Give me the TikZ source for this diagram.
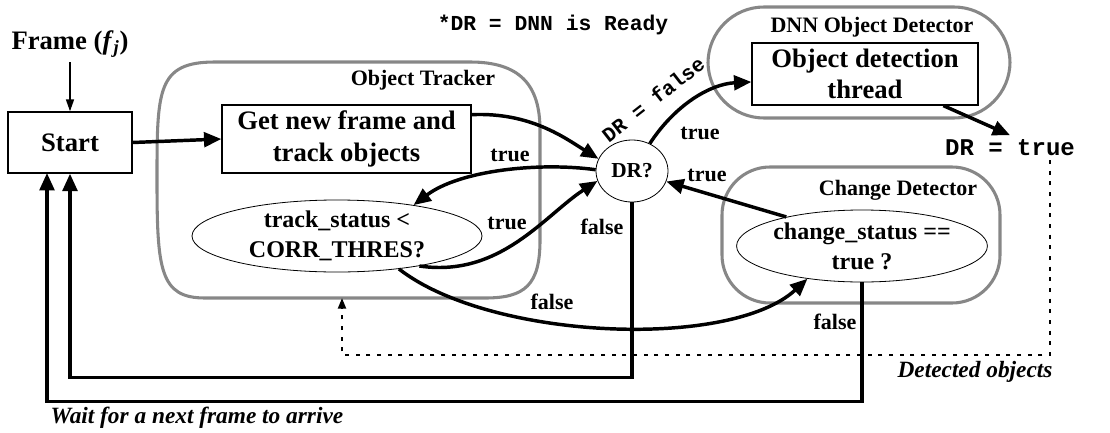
\documentclass[tikz,border=0pt]{standalone}
\usepackage{fontspec}
\setmainfont{Liberation Serif}
\setmonofont{Liberation Mono}
\usetikzlibrary{arrows.meta,shapes.geometric,calc}
\definecolor{cgray}{HTML}{878787}
\begin{document}
\begin{tikzpicture}[x=0.75pt,y=-0.75pt,
  box/.style={draw,line width=1pt,rectangle,align=center,font=\fontsize{20}{23.5}\selectfont\bfseries,inner sep=0pt},
  cond/.style={draw,line width=0.6pt,ellipse,align=center,font=\fontsize{18}{22.5}\selectfont\bfseries,inner sep=0pt},
  container/.style={draw=cgray,line width=2.3pt},
  ctitle/.style={font=\fontsize{16.5}{19}\selectfont\bfseries},
  lbl/.style={font=\fontsize{16.5}{19}\selectfont\bfseries},
  monolbl/.style={font=\fontsize{16}{19}\selectfont\ttfamily\bfseries},
  itl/.style={font=\fontsize{17.5}{20}\selectfont\bfseries\itshape},
  flow/.style={line width=2.6pt,-{Triangle[length=13pt,width=11pt]}},
  thinflow/.style={line width=1.2pt,-{Triangle[length=9pt,width=6pt]}},
  dotflow/.style={line width=1.6pt,dash pattern=on 3pt off 5pt,-{Triangle[length=8pt,width=6pt]}}
]
\useasboundingbox (0,0) rectangle (1110,432);

% containers
\draw[container] (215,62) -- (470,62) .. controls (520,62) and (540,85) .. (540,130) -- (540,240) .. controls (540,285) and (525,298) .. (485,298) -- (205,298) .. controls (160,298) and (157,270) .. (157,180) .. controls (157,90) and (157,62) .. (215,62) -- cycle;
\draw[container,rounded corners=42pt] (708,7) rectangle (1010,118);
\draw[container,rounded corners=36pt] (722,167) rectangle (1000,303);
\coordinate (trackbot) at (342,298);

\node[ctitle] (trtitle) at (423,80) {Object Tracker};
\node[ctitle] (dnntitle) at (872,27) {DNN Object Detector};
\node[ctitle] (chtitle) at (898,190) {Change Detector};

% nodes
\node[font=\fontsize{20}{22}\selectfont\bfseries] (frame) at (70,44) {Frame (\textit{f}\textsubscript{\textit{j}})};
\node[box,minimum width=93pt,minimum height=45.75pt] (start) at (70,142.5) {Start};
\node[box,minimum width=186.75pt,minimum height=51pt] (getframe) at (346.5,139) {Get new frame and\\track objects};
\node[box,minimum width=169.5pt,minimum height=46.5pt] (dnnbox) at (865,74) {Object detection\\thread};
\node[cond,minimum width=54pt,minimum height=46.5pt,font=\fontsize{16}{19}\selectfont\bfseries] (dr) at (632,171) {DR?};
\node[cond,minimum width=217.5pt,minimum height=54pt] (track) at (337,236) {track\_status <\\CORR\_THRES?};
\node[cond,minimum width=186pt,minimum height=54pt] (change) at (862,246) {change\_status ==\\true ?};

\node[monolbl] (note) at (553,25) {*DR = DNN is Ready};
\node[monolbl,font=\fontsize{18}{20}\selectfont\ttfamily\bfseries] (drtrue) at (1010,148) {DR = true};
\node[itl] (detected) at (975,372) {Detected objects};
\node[itl] (wait) at (197,418) {Wait for a next frame to arrive};
\coordinate (dotstart) at (1050,160);
\coordinate (startin) at (47,173);

% connectors
\draw[thinflow] (frame.south) -- (start.north);
\draw[flow] (start.east) -- (getframe.west);
\draw[flow] (getframe.11) .. controls (530,112) and (565,138) .. (dr.160);
\draw[flow] (dr.178) .. controls (540,162) and (460,170) .. (track.22);
\node[lbl] (t1) at (510,155) {true};
\draw[flow] (track.-20) .. controls (500,278) and (545,215) .. (dr.196);
\node[lbl] (t2) at (507,223) {true};
\draw[flow] (track.-28) .. controls (490,340) and (730,350) .. (change.211);
\node[lbl] (f1) at (552,302) {false};
\draw[flow] (dr.south) -- ++(0,175) -| (start.south);
\node[lbl] (f2) at (602,227) {false};
\draw[flow] (change.south) -- ++(0,119) -| (startin);
\node[lbl] (f3) at (835,322) {false};
\draw[flow] (change.159) -- (dr.-17);
\node[lbl] (t3) at (707,175) {true};
\draw[flow] (dr.57) .. controls (675,105) and (710,84) .. (dnnbox.184);
\node[lbl] (t4) at (700,133) {true};
\node[monolbl,font=\fontsize{15.5}{18}\selectfont\ttfamily\bfseries,rotate=38] (drfalse) at (653,99) {DR = false};
\draw[flow] (dnnbox.-22.5) -- (drtrue.north);
\draw[dotflow] (dotstart) -- (1050,355) -| (trackbot);
\end{tikzpicture}
\end{document}
